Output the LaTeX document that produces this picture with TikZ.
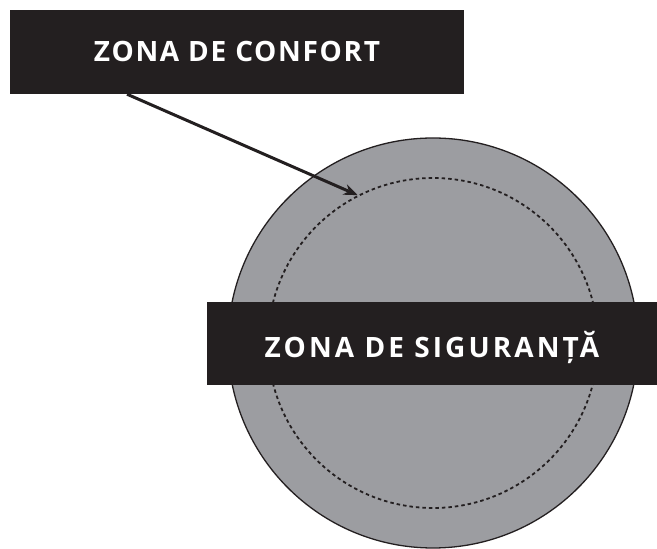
\documentclass[tikz,border=0pt]{standalone}
\usepackage{fontspec}
\setmainfont{Open Sans}
\usetikzlibrary{arrows.meta}
\definecolor{inkblack}{HTML}{231F20}
\definecolor{zonegray}{HTML}{9C9DA1}
\tikzset{
    labelbar/.style={fill=inkblack, text=white, inner sep=0pt, text depth=0pt,
        font=\fontsize{28}{30}\selectfont\bfseries}
}
\begin{document}
\begin{tikzpicture}[x=1pt, y=1pt]
    \useasboundingbox (0, 0) rectangle (657, 549);

    \node[circle, draw=inkblack, line width=1.3pt, fill=zonegray, minimum size=410pt] (comfort) at (433, 206) {};
    \node[circle, draw=inkblack, line width=1.8pt, dash pattern=on 3.5pt off 3pt, minimum size=330pt] (safe) at (433, 206) {};

    \node[labelbar, text height=29pt, minimum width=450pt, minimum height=83pt] (siguranta) at (432, 205.5)
        {\addfontfeatures{LetterSpace=11}ZONA DE SIGURANȚĂ};
    \node[labelbar, text height=20pt, minimum width=454pt, minimum height=84pt] (confort) at (237, 497)
        {\addfontfeatures{LetterSpace=6}ZONA DE CONFORT};

    \draw[inkblack, line width=3pt, -{Stealth[length=14pt, width=11pt]}] (confort.201) -- (safe.117.5);
\end{tikzpicture}
\end{document}
